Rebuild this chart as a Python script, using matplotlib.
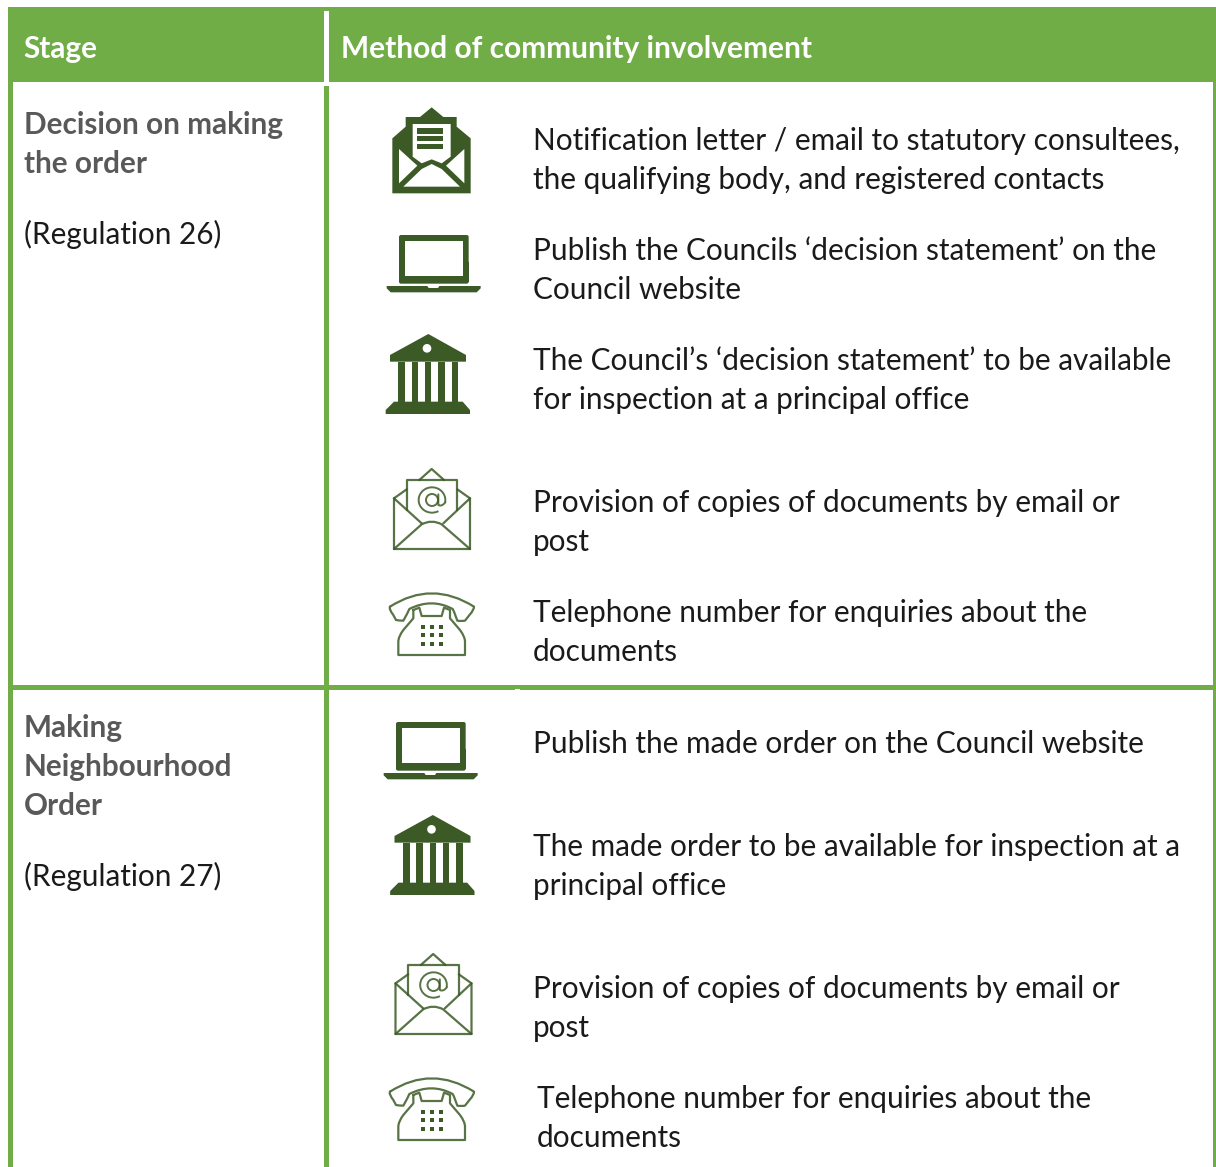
"""Community involvement table, drawn in pixel coordinates."""
import matplotlib; matplotlib.use("Agg")
import matplotlib.pyplot as plt
from matplotlib.patches import Rectangle, Polygon, Circle, Arc, FancyBboxPatch, PathPatch
from matplotlib.path import Path

GREEN="#70AD47"; DARK="#3B5A26"; GREY="#595959"; INK="#1A1A1A"
HEADERS=["Stage","Method of community involvement"]
STAGE_1=["Decision on making","the order"]
STAGE_2=["Making","Neighbourhood","Order"]
REG_1="(Regulation 26)"; REG_2="(Regulation 27)"
ROWS=[("Notification letter / email to statutory consultees,",533,150),
      ("the qualifying body, and registered contacts",533,189),
      ("Publish the Councils ‘decision statement’ on the",533,260),
      ("Council website",533,299),
      ("The Council’s ‘decision statement’ to be available",533,370),
      ("for inspection at a principal office",533,409),
      ("Provision of copies of documents by email or",533,512),
      ("post",533,551),
      ("Telephone number for enquiries about the",533,622),
      ("documents",533,661),
      ("Publish the made order on the Council website",533,753),
      ("The made order to be available for inspection at a",533,856),
      ("principal office",533,895),
      ("Provision of copies of documents by email or",533,998),
      ("post",533,1037),
      ("Telephone number for enquiries about the",537,1108),
      ("documents",537,1147)]

W,H=1216,1167
plt.rcParams["font.family"]=["Lato","DejaVu Sans"]
fig=plt.figure(figsize=(W/100,H/100),dpi=100)
ax=fig.add_axes([0,0,1,1]); ax.set_xlim(0,W); ax.set_ylim(H,0); ax.axis("off")
FS=21.45; FS_HEAD=21.55

def box(x0,y0,x1,y1,c=GREEN,z=1):
    ax.add_patch(Rectangle((x0,y0),x1-x0,y1-y0,fc=c,ec="none",lw=0,zorder=z))

def poly(pts,c,dx,dy,ox,oy,z):
    # points are in 3x crop coordinates
    ax.add_patch(Polygon([(ox+x/3+dx,oy+y/3+dy) for x,y in pts],fc=c,ec="none",zorder=z))

def env_solid():
    ox,oy=370,95
    poly([(67,130),(107,95),(107,66),(150,66),(185,37),(220,66),(260,66),(260,95),(302,130),(302,295),(67,295)],DARK,0,0,ox,oy,3)
    poly([(128,87),(242,87),(242,185),(215,205),(185,193),(155,205),(128,185)],"white",0,0,ox,oy,4)
    for y0,y1 in [(100,116),(124,139),(147,162)]:
        poly([(141,y0),(220,y0),(220,y1),(141,y1)],DARK,0,0,ox,oy,5)
    poly([(87,162),(142,212),(87,265)],"white",0,0,ox,oy,4)
    poly([(283,162),(228,212),(283,265)],"white",0,0,ox,oy,4)
    poly([(100,275),(155,222),(185,207),(215,222),(270,275)],"white",0,0,ox,oy,4)

def laptop(dx,dy):
    ox,oy=370,95
    ax.add_patch(FancyBboxPatch((ox+87/3+dx+2,oy+420/3+dy+2),209/3-4,140/3-2,boxstyle="round,pad=2",fc=DARK,ec="none",zorder=3))
    poly([(87,500),(296,500),(296,560),(87,560)],DARK,dx,dy,ox,oy,3)
    poly([(106,438),(278,438),(278,542),(106,542)],"white",dx,dy,ox,oy,4)
    poly([(50,573),(332,573),(332,580),(320,592),(62,592),(50,580)],DARK,dx,dy,ox,oy,3)
    poly([(172,573),(208,573),(204,579),(176,579)],"white",dx,dy,ox,oy,4)

def bank(dx,dy):
    ox,oy=370,95
    poly([(60,780),(175,717),(288,780),(288,800),(60,800)],DARK,dx,dy,ox,oy,3)
    ax.add_patch(Circle((ox+171/3+dx,oy+760/3+dy),13/3,fc="white",ec="none",zorder=4))
    for x0,x1 in [(85,105),(125,144),(165,184),(205,224),(245,265)]:
        poly([(x0,800),(x1,800),(x1,920),(x0,920)],DARK,dx,dy,ox,oy,3)
    poly([(47,945),(72,920),(278,920),(300,945),(300,957),(47,957)],DARK,dx,dy,ox,oy,3)

def curve(verts,codes,dx,dy,lw=1.6):
    ox,oy=370,455
    v=[(ox+x/3+dx,oy+y/3+dy) for x,y in verts]
    ax.add_patch(PathPatch(Path(v,codes),fc="none",ec=DARK,lw=lw,zorder=3,capstyle="round",joinstyle="round",alpha=.85))

def env_line(dx,dy):
    M,L,C=Path.MOVETO,Path.LINETO,Path.CURVE3
    curve([(110,103),(72,130),(72,282),(300,282),(300,130),(262,103)],[M,L,L,L,L,L],dx,dy)
    curve([(110,165),(110,75),(262,75),(262,165)],[M,L,L,L],dx,dy)
    curve([(148,75),(185,42),(222,75)],[M,L,L],dx,dy)
    curve([(72,130),(155,205)],[M,L],dx,dy)
    curve([(300,130),(220,205)],[M,L],dx,dy)
    curve([(72,282),(155,208),(185,192),(215,208),(300,282)],[M,L,C,C,L],dx,dy)
    # @ sign
    cx,cy=370+186/3+dx,455+135/3+dy
    ax.add_patch(Arc((cx,cy),80/3,76/3,theta1=60,theta2=370,ec=DARK,lw=1.4,zorder=4,alpha=.85))
    ax.add_patch(Circle((cx,cy),18/3,fc="none",ec=DARK,lw=1.4,zorder=4,alpha=.85))
    curve([(205,118),(205,150),(215,156),(226,142)],[M,L,C,C],dx,dy,lw=1.4)

def phone(dx,dy):
    M,L,C=Path.MOVETO,Path.LINETO,Path.CURVE3
    curve([(60,455),(185,375),(312,455),(312,465),(300,478),(285,497),(272,499),(262,497),(252,470),(248,462),(185,428),(118,462),
           (112,475),(100,497),(88,497),(78,495),(70,480),(56,462),(60,455)],
          [M,C,C,C,C,L,C,C,L,L,C,C,L,L,C,C,L,C,C],dx,dy)
    curve([(130,465),(130,490),(100,525),(85,545),(85,560),(85,600),(285,600),(285,560),(285,545),(270,525),(240,490),(240,465),
           (222,458),(215,483),(155,483),(148,458),(130,465)],
          [M,L,L,C,C,L,L,L,C,C,L,L,L,L,L,L,L],dx,dy)
    for y in (515,541,567):
        for x in (160,185,212):
            poly([(x-6,y-6),(x+6,y-6),(x+6,y+6),(x-6,y+6)],DARK,dx,dy,370,455,3)

# table frame
box(8,7,1216,82)
box(324,11,329,82,"white",2)
box(8,82,13,H); box(324,86,329,H)
box(1213,82,1216,H)
box(8,685,1216,690)
box(515,689,520,690,"white",2)

for s,x,fs in zip(HEADERS,(23,341),(FS,FS_HEAD)):
    ax.text(x,58,s,color="white",fontsize=fs,fontweight="bold",va="baseline",zorder=5)
for s,y in zip(STAGE_1,(134,173)):
    ax.text(24,y,s,color=GREY,fontsize=FS,fontweight="bold",va="baseline")
for s,y in zip(STAGE_2,(737,776,815)):
    ax.text(24,y,s,color=GREY,fontsize=FS,fontweight="bold",va="baseline")
ax.text(24.5,244,REG_1,color=INK,fontsize=FS,va="baseline")
ax.text(24.5,886,REG_2,color=INK,fontsize=FS,va="baseline")
for s,x,y in ROWS:
    ax.text(x,y,s,color=INK,fontsize=FS,va="baseline")

env_solid()
laptop(0,0); laptop(-3,487)
bank(0,0); bank(4.5,481)
env_line(0,0); env_line(1.5,485)
phone(0,0); phone(0,485)

fig.savefig("out.png",dpi=100)
